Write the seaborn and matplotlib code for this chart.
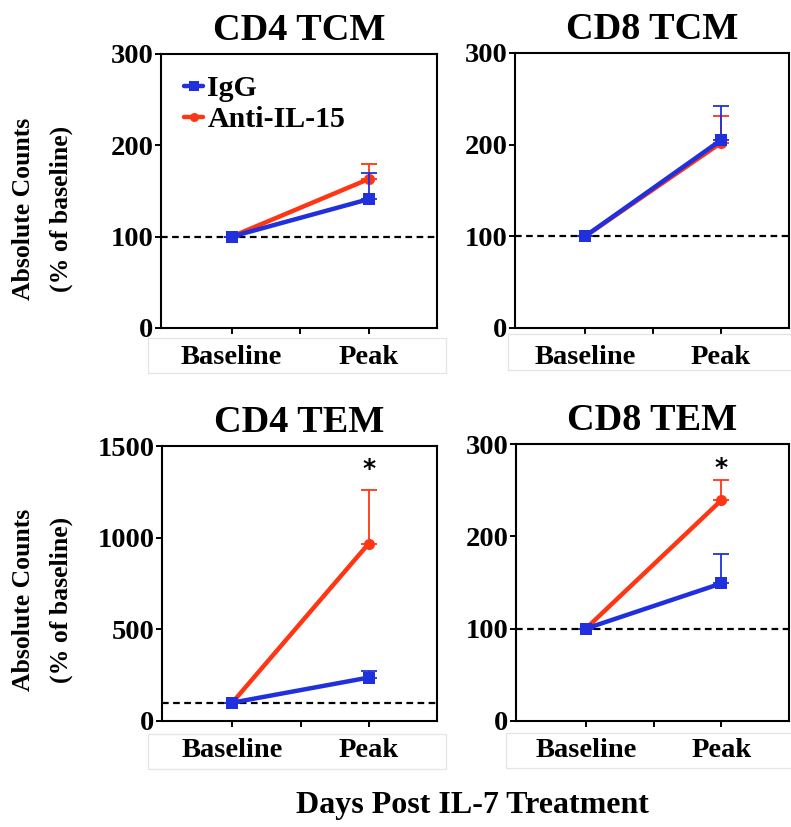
import matplotlib
matplotlib.use("Agg")
import matplotlib.pyplot as plt
from matplotlib.patches import Rectangle
from matplotlib.lines import Line2D
import seaborn as sns
import pandas as pd

sns.set_theme(style="ticks")
plt.rcParams["font.family"] = ["Liberation Serif", "DejaVu Serif"]
plt.rcParams["font.weight"] = "bold"
plt.rcParams["text.color"] = "black"
plt.rcParams["xtick.color"] = "black"
plt.rcParams["ytick.color"] = "black"
plt.rcParams["xtick.labelcolor"] = "black"
plt.rcParams["ytick.labelcolor"] = "black"

# Data: mean absolute counts (% of baseline) and upper SEM
timepoints = ["Baseline", "Peak"]
groups = ["IgG", "Anti-IL-15"]
panels = ["CD4 TCM", "CD8 TCM", "CD4 TEM", "CD8 TEM"]

igg_mean = {"CD4 TCM": [100, 141], "CD8 TCM": [100, 205],
            "CD4 TEM": [100, 237], "CD8 TEM": [100, 149]}
igg_err = {"CD4 TCM": [0, 29], "CD8 TCM": [0, 37],
           "CD4 TEM": [0, 36], "CD8 TEM": [0, 32]}
anti_mean = {"CD4 TCM": [100, 163], "CD8 TCM": [100, 202],
             "CD4 TEM": [100, 968], "CD8 TEM": [100, 239]}
anti_err = {"CD4 TCM": [0, 17], "CD8 TCM": [0, 29],
            "CD4 TEM": [0, 294], "CD8 TEM": [0, 22]}

y_max = {"CD4 TCM": 300, "CD8 TCM": 300, "CD4 TEM": 1500, "CD8 TEM": 300}
y_step = {"CD4 TCM": 100, "CD8 TCM": 100, "CD4 TEM": 500, "CD8 TEM": 100}
star_level = {"CD4 TEM": 1373, "CD8 TEM": 274}

colors = {"IgG": "#1f30dc", "Anti-IL-15": "#ff3614"}
markers = {"IgG": "s", "Anti-IL-15": "o"}

W, H = 791, 827
fig = plt.figure(figsize=(W / 100, H / 100), dpi=100)


def px_axes(l, t, r, b):
    return fig.add_axes([l / W, 1 - b / H, (r - l) / W, (b - t) / H])


# axes boxes in pixel coordinates (left, top, right, bottom)
boxes = {"CD4 TCM": (161, 54, 437, 328), "CD8 TCM": (515, 53, 789, 328),
         "CD4 TEM": (162, 446, 437, 721), "CD8 TEM": (516, 444, 789, 721)}
# faint frames around the category labels
label_frames = {"CD4 TCM": (148, 338, 446, 373), "CD8 TCM": (508, 334, 795, 370),
                "CD4 TEM": (148, 734, 446, 769), "CD8 TEM": (506, 733, 795, 768)}

xpos = [0, 2]
font_tick = 20.5

for name in panels:
    ax = px_axes(*boxes[name])
    df = pd.concat([
        pd.DataFrame({"x": xpos, "value": anti_mean[name], "group": "Anti-IL-15"}),
        pd.DataFrame({"x": xpos, "value": igg_mean[name], "group": "IgG"}),
    ])
    ax.axhline(100, color="black", ls=(0, (3, 2)), lw=1.6, zorder=1)
    for g, means, errs in [("Anti-IL-15", anti_mean[name], anti_err[name]),
                           ("IgG", igg_mean[name], igg_err[name])]:
        z = 3 if g == "Anti-IL-15" else 4
        ax.errorbar(xpos, means, yerr=[[0, 0], errs], fmt="none",
                    ecolor=colors[g], elinewidth=1.3, capsize=6, capthick=1.3,
                    zorder=z)
        sns.lineplot(data=df[df["group"] == g], x="x", y="value", ax=ax,
                     color=colors[g], marker=markers[g], markersize=8,
                     markeredgewidth=0, lw=3.2, zorder=z, legend=False)
    if name in star_level:
        ax.text(2, star_level[name], "*", ha="center", va="center",
                fontsize=18, fontfamily="DejaVu Sans", fontweight="bold",
                color="black")

    ax.set_xlim(-1.03, 3.0)
    ax.set_ylim(0, y_max[name])
    ax.set_xticks([0, 1, 2])
    ax.set_xticklabels(["Baseline", "", "Peak"], fontsize=font_tick,
                       fontweight="bold")
    yt = list(range(0, y_max[name] + 1, y_step[name]))
    ax.set_yticks(yt)
    ax.set_yticklabels([str(v) for v in yt], fontsize=font_tick,
                       fontweight="bold")
    ax.set_xlabel("")
    ax.set_ylabel("")
    for s in ax.spines.values():
        s.set_linewidth(1.5)
        s.set_color("black")
    ax.tick_params(axis="both", direction="out", length=4.5, width=1.4,
                   color="black", labelcolor="black")
    ax.tick_params(axis="y", pad=1)
    ax.tick_params(axis="x", pad=8)
    ax.set_title(name, fontsize=27.5, fontweight="bold", pad=10,
                 color="black")

    l, t, r, b = label_frames[name]
    fig.patches.append(Rectangle((l / W, 1 - b / H), (r - l) / W, (b - t) / H,
                                 transform=fig.transFigure, fill=False,
                                 edgecolor="#e4e4e4", lw=0.9))

    if name == "CD4 TCM":
        handles = [Line2D([0], [0], color=colors[g], marker=markers[g],
                          markersize=6.5, markeredgewidth=0, lw=3.2)
                   for g in groups]
        ax.legend(handles, groups, loc="upper left", frameon=False,
                  handlelength=0.63, handletextpad=0.15, labelspacing=0.12,
                  borderaxespad=0.3, bbox_to_anchor=(0.008, 0.998),
                  prop={"size": 21.5, "weight": "bold",
                        "family": "Liberation Serif"})

# shared y-axis labels and x-axis label
for yc in (209, 600):
    fig.text(24 / W, 1 - yc / H, "Absolute Counts", rotation=90,
             ha="center", va="center", fontsize=18.5, fontweight="bold")
    fig.text(61 / W, 1 - yc / H, "(% of baseline)", rotation=90,
             ha="center", va="center", fontsize=18.5, fontweight="bold")
fig.text(472 / W, 1 - 806 / H, "Days Post IL-7 Treatment", ha="center",
         va="center", fontsize=23, fontweight="bold")

fig.savefig("out.png", dpi=100)
